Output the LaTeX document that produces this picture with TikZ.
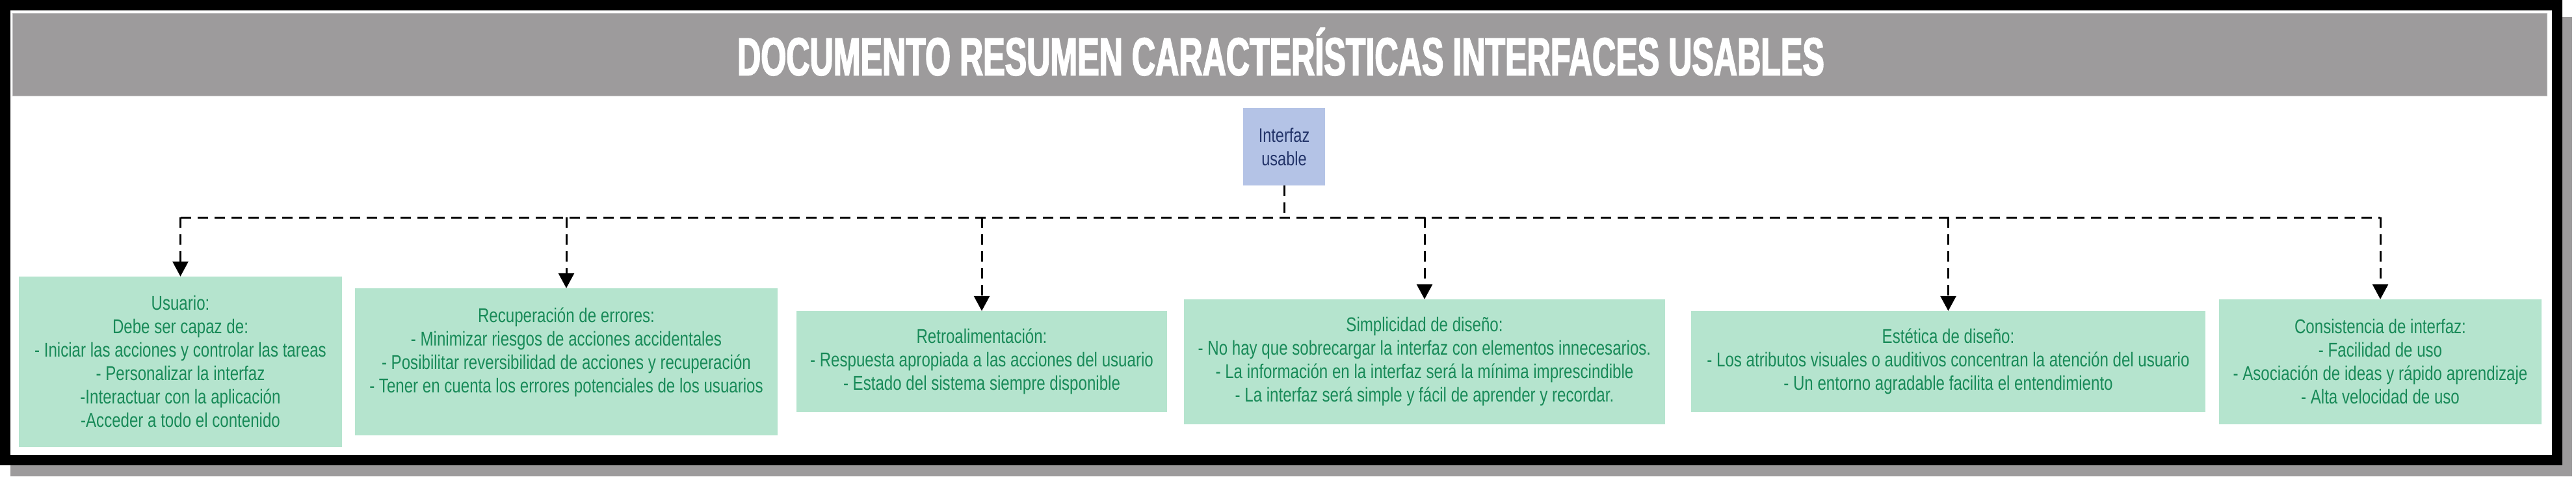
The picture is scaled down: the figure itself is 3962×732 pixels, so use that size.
\documentclass[tikz,border=0pt]{standalone}
\usepackage{fontspec}
\setmainfont{Liberation Sans}
\newfontfamily\bodyfont[FakeStretch=0.785]{Liberation Sans}
\newfontfamily\titlefont[FakeStretch=0.612,FakeBold=2]{Liberation Sans}
\usetikzlibrary{arrows.meta}
\definecolor{bandgray}{RGB}{157,155,156}
\definecolor{mint}{RGB}{181,228,206}
\definecolor{mintText}{RGB}{24,138,88}
\definecolor{peri}{RGB}{180,195,230}
\definecolor{navy}{RGB}{35,52,105}
\tikzset{
  greenbox/.style={fill=mint, text=mintText, align=center, inner sep=0pt,
    font={\bodyfont\fontsize{30.7pt}{36pt}\selectfont}},
  bluebox/.style={fill=peri, text=navy, align=center, inner sep=0pt,
    font={\bodyfont\fontsize{30pt}{36pt}\selectfont}},
  dashline/.style={draw=black, line width=3pt, dash pattern=on 16pt off 10pt},
  dasharrow/.style={dashline, -{Triangle[width=24pt,length=23pt]}},
}
\begin{document}
\begin{tikzpicture}[x=1pt,y=-1pt]
\useasboundingbox (0,0) rectangle (3962,732);
% shadow and frame
\fill[bandgray] (16,26) rectangle (3956,732);
\filldraw[fill=white,draw=black,line width=16pt] (8,8) rectangle (3933,707);
% title band
\node[fill=bandgray, draw=black!25, line width=1pt, minimum width=3898pt, minimum height=127pt, inner sep=0pt, anchor=north west] (band) at (19,20) {};
\node[anchor=base, text=white, inner sep=0pt, font={\titlefont\bfseries\fontsize{82pt}{82pt}\selectfont}] (title) at (1970,115.5) {DOCUMENTO RESUMEN CARACTERÍSTICAS INTERFACES USABLES};
% root
\node[bluebox, minimum width=126pt, minimum height=119pt] (iface) at (1975,225.5) {Interfaz\\usable};
% children
\node[greenbox, minimum width=497pt, minimum height=262pt] (usr) at (277.5,556) {Usuario:\\Debe ser capaz de:\\- Iniciar las acciones y controlar las tareas\\- Personalizar la interfaz\\-Interactuar con la aplicación\\-Acceder a todo el contenido};
\node[greenbox, minimum width=650pt, minimum height=226pt] (rec) at (871,556) {Recuperación de errores:\\- Minimizar riesgos de acciones accidentales\\- Posibilitar reversibilidad de acciones y recuperación\\- Tener en cuenta los errores potenciales de los usuarios\\\mbox{}};
\node[greenbox, minimum width=570pt, minimum height=155pt] (ret) at (1510,555.5) {Retroalimentación:\\- Respuesta apropiada a las acciones del usuario\\- Estado del sistema siempre disponible};
\node[greenbox, minimum width=740pt, minimum height=192pt] (sim) at (2191,556) {Simplicidad de diseño:\\- No hay que sobrecargar la interfaz con elementos innecesarios.\\- La información en la interfaz será la mínima imprescindible\\- La interfaz será simple y fácil de aprender y recordar.};
\node[greenbox, minimum width=791pt, minimum height=155pt] (est) at (2996.5,555.5) {Estética de diseño:\\- Los atributos visuales o auditivos concentran la atención del usuario\\- Un entorno agradable facilita el entendimiento};
\node[greenbox, minimum width=496pt, minimum height=192pt] (con) at (3661,556) {Consistencia de interfaz:\\- Facilidad de uso\\- Asociación de ideas y rápido aprendizaje\\- Alta velocidad de uso};
% connectors
\coordinate (j) at (1975,334);
\draw[dashline] (iface.south) -- (j);
\draw[dashline] (usr.north |- j) -- (con.north |- j);
\foreach \n in {usr,rec,ret,sim,est,con}
  \draw[dasharrow] (\n.north |- j) -- (\n.north);
\end{tikzpicture}
\end{document}
